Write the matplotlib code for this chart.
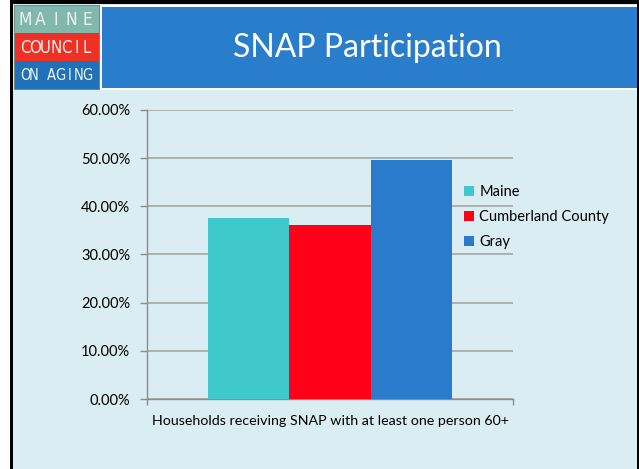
import matplotlib
matplotlib.use("Agg")
import matplotlib.pyplot as plt
from matplotlib.patches import Rectangle
from matplotlib.ticker import FuncFormatter, MultipleLocator
from matplotlib import font_manager

# ---- data ----
category = "Households receiving SNAP with at least one person 60+"
series = ["Maine", "Cumberland County", "Gray"]
values = [0.376, 0.361, 0.496]
colors = ["#3FC9CC", "#FF0018", "#2A7BCB"]
title = "SNAP Participation"
logo_lines = ["MAINE", "COUNCIL", "ON AGING"]

W, H = 639, 469
fig = plt.figure(figsize=(W / 100, H / 100), dpi=100)
fig.patch.set_facecolor("white")

def rect(x0, y0, x1, y1, **kw):
    fig.patches.append(Rectangle((x0 / W, 1 - y1 / H), (x1 - x0) / W, (y1 - y0) / H,
                                 transform=fig.transFigure, figure=fig, **kw))

# slide background and border
rect(10, 0, 639, 469, facecolor="#DAEDF3", edgecolor="none", zorder=-5)
rect(10, 0, 13, 469, facecolor="black", edgecolor="none", zorder=-4)
rect(10, 0, 639, 4, facecolor="black", edgecolor="none", zorder=-4)
rect(637, 0, 639, 469, facecolor="black", edgecolor="none", zorder=-4)

# title bar
rect(100, 5, 637, 90, facecolor="white", edgecolor="none", zorder=-3)
rect(102, 7, 637, 88, facecolor="#2A7DCB", edgecolor="none", zorder=-2)
fig.text(367 / W, 1 - 48 / H, title, color="white", fontsize=23, family="Lato",
         ha="center", va="center", zorder=5)

# logo
rect(14, 5, 100, 90, facecolor="#6E8F88", edgecolor="none", zorder=-2)
rect(15, 6, 99, 33, facecolor="#80B8AE", edgecolor="none", zorder=-1)
rect(15, 33, 99, 61, facecolor="#EE3124", edgecolor="none", zorder=-1)
rect(15, 61, 99, 89, facecolor="#1F72BA", edgecolor="none", zorder=-1)
names = {f.name for f in font_manager.fontManager.ttflist}
logo_font = "Liberation Sans Narrow" if "Liberation Sans Narrow" in names else "DejaVu Sans"
logo_y = [20, 48, 76]
logo_sizes = [12.5, 12, 10.5]
for line, ly, fs in zip(logo_lines, logo_y, logo_sizes):
    n = len(line)
    x0, x1 = 25, 87
    for i, ch in enumerate(line):
        if ch == " ":
            continue
        x = x0 + (x1 - x0) * i / (n - 1)
        fig.text(x / W, 1 - ly / H, ch, color="#EEF3F2", fontsize=fs,
                 family=logo_font, fontstretch="condensed",
                 ha="center", va="center", zorder=6)

# chart axes
ax_l, ax_r, ax_t, ax_b = 147, 513, 110, 399
ax = fig.add_axes([ax_l / W, 1 - ax_b / H, (ax_r - ax_l) / W, (ax_b - ax_t) / H])
ax.set_zorder(10)
ax.set_facecolor("none")
bw = 0.223
offsets = [-bw, 0, bw]
for s, v, c, o in zip(series, values, colors, offsets):
    ax.bar(0 + o, v, width=bw, color=c, label=s, zorder=3)

ax.set_xlim(-0.5, 0.5)
ax.set_ylim(0, 0.6)
ax.yaxis.set_major_locator(MultipleLocator(0.1))
ax.yaxis.set_major_formatter(FuncFormatter(lambda v, p: f"{v*100:.2f}%"))
ax.grid(axis="y", color="#A6A6A6", linewidth=1.2, zorder=0)
ax.set_axisbelow(True)
for sp in ["top", "right"]:
    ax.spines[sp].set_visible(False)
for sp in ["left", "bottom"]:
    ax.spines[sp].set_color("#8C8C8C")
    ax.spines[sp].set_linewidth(1.0)
ax.tick_params(axis="y", length=5, width=1, color="#8C8C8C", labelsize=10.5, pad=7)
ax.set_xticks([-0.5, 0.5])
ax.set_xticklabels(["", ""])
ax.tick_params(axis="x", length=4, width=1, color="#8C8C8C")
for lab in ax.get_yticklabels():
    lab.set_family("Lato")
ax.set_xlabel(category, fontsize=10.3, family="Lato", labelpad=4)

leg = ax.legend(loc="upper left", bbox_to_anchor=(0.85, 0.76), frameon=False,
                prop={"family": "Lato", "size": 10.5}, handlelength=0.7, handleheight=0.7,
                handletextpad=0.35, labelspacing=0.75, borderaxespad=0)

fig.savefig("out.png", dpi=100, facecolor=fig.get_facecolor())
